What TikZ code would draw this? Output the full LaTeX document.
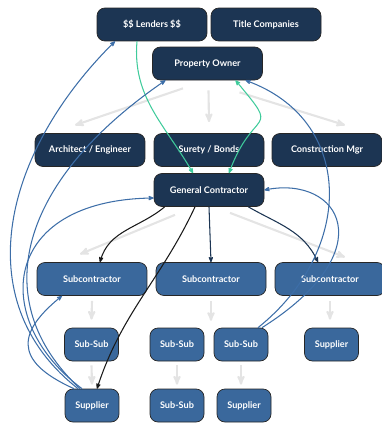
\documentclass[tikz,border=0pt]{standalone}
\usepackage{fontspec}
\setmainfont{Lato}
\usepackage{xcolor}
\usepackage{tikz}
\usetikzlibrary{arrows}
\definecolor{navy}{HTML}{1C3553}
\definecolor{midblue}{HTML}{3A689C}
\definecolor{linkblue}{HTML}{3D6EA8}
\definecolor{mint}{HTML}{3FCB9B}
\definecolor{faint}{HTML}{E4E4E4}
\tikzset{
	main node/.style={rectangle,rounded corners=0.4cm,draw=black!85,line width=1pt,fill=navy,text=white,
		font=\bfseries\fontsize{13}{15}\selectfont,minimum width=5.5cm,minimum height=1.65cm,inner sep=0pt},
	sub node/.style={main node,fill=midblue},
	small node/.style={sub node,minimum width=2.7cm},
	light/.style={draw=faint,line width=3pt},
	link/.style={draw=linkblue,line width=1.5pt},
	green link/.style={draw=mint,line width=1.5pt},
	dark link/.style={draw=black!90,line width=1.5pt},
	navy link/.style={draw=navy,line width=1.5pt}
}

\begin{document}
\begin{tikzpicture}[->,>=stealth',x=0.05cm,y=0.05cm]
	\useasboundingbox (0,0) rectangle (381,-423);
	% top rows
	\node [main node] (lenders) at (152,-24.5) {\$\$ Lenders \$\$};
	\node [main node] (title) at (266,-24.5) {Title Companies};
	\node [main node] (owner) at (207.5,-63.5) {Property Owner};
	\node [main node] (arch) at (90,-150) {Architect / Engineer};
	\node [main node] (surety) at (209,-150) {Surety / Bonds};
	\node [main node] (cmgr) at (327,-150) {Construction Mgr};
	\node [main node] (gc) at (209,-190) {General Contractor};
	% trades
	\node [sub node] (subA) at (92,-279) {Subcontractor};
	\node [sub node] (subB) at (211,-279) {Subcontractor};
	\node [sub node] (subC) at (330,-279) {Subcontractor};
	\node [small node] (ssA) at (91.5,-344.5) {Sub-Sub};
	\node [small node] (ssB) at (177,-344.5) {Sub-Sub};
	\node [small node] (ssC) at (241,-344.5) {Sub-Sub};
	\node [small node] (supR) at (331.5,-344.5) {Supplier};
	\node [small node] (supA) at (92,-405.5) {Supplier};
	\node [small node] (ssD) at (177,-405.5) {Sub-Sub};
	\node [small node] (supB) at (244,-405.5) {Supplier};

	% faint hierarchy arrows
	\draw[light] ([shift={(-24.5,-8)}]owner.south) -- ([shift={(-15,8)}]arch.north);
	\draw[light] ([shift={(1,-10)}]owner.south) -- ([shift={(0,11)}]surety.north);
	\draw[light] ([shift={(32,-12)}]owner.south) -- ([shift={(18,8)}]cmgr.north);
	\draw[light] ([shift={(-34,-8)}]gc.south) -- ([shift={(-12,8)}]subA.north);
	\draw[light] ([shift={(21,-6)}]gc.south) -- ([shift={(15,5)}]subC.north);
	\draw[light] ([shift={(0,-5)}]subA.south) -- ([shift={(0,8)}]ssA.north);
	\draw[light] ([shift={(0,-5)}]subB.south) -- ++(0,-20);
	\draw[light] ([shift={(0,-5)}]subC.south) -- ([shift={(-1.5,8)}]supR.north);
	\draw[light] ([shift={(0,-4)}]ssA.south) -- ([shift={(0,4)}]supA.north);
	\draw[light] ([shift={(0,-4)}]ssB.south) -- ([shift={(0,4)}]ssD.north);
	\draw[light] ([shift={(0,-4)}]ssC.south) -- ([shift={(-3,4)}]supB.north);

	% contract flow
	\draw[dark link] ([shift={(11,0)}]gc.south west) to[out=-140,in=75] ([shift={(8,0)}]subA.north);
	\draw[dark link] ([shift={(-14,0)}]gc.south) to[out=-115,in=72] ([shift={(5,0)}]supA.north);
	\draw[navy link] (gc.south) -- (subB.north);
	\draw[navy link] ([shift={(-16,0)}]gc.south east) to[out=-30,in=115] ([shift={(-12,0)}]subC.north);

	% money and bonds
	\draw[green link] ([shift={(-15,0)}]lenders.south) to[out=-95,in=120] ([shift={(-16,0)}]gc.north);
	\draw[green link,<->] ([shift={(28,0)}]owner.south) to[out=-50,in=70,looseness=2] ([shift={(20,0)}]gc.north);

	% lien paths
	\draw[link] ([shift={(-14,0)}]supA.north) .. controls (-35,-300) and (5,-150) .. ([shift={(-37,0)}]lenders.south);
	\draw[link] ([shift={(-12,0)}]supA.north) .. controls (-15,-300) and (20,-180) .. ([shift={(-42,0)}]owner.south);
	\draw[link] ([shift={(-10,0)}]supA.north) .. controls (-10,-320) and (0,-200) .. ([shift={(0,-8)}]gc.west);
	\draw[link] ([shift={(-18,0)}]supA.north) .. controls (10,-360) and (20,-330) .. ([shift={(-30,0)}]subA.south);
	\draw[link] ([shift={(17,0)}]ssC.north) .. controls (355,-250) and (355,-120) .. ([shift={(38,0)}]owner.south);
	\draw[link] ([shift={(21,0)}]ssC.north) .. controls (385,-250) and (340,-175) .. (gc.east);
\end{tikzpicture}
\end{document}
